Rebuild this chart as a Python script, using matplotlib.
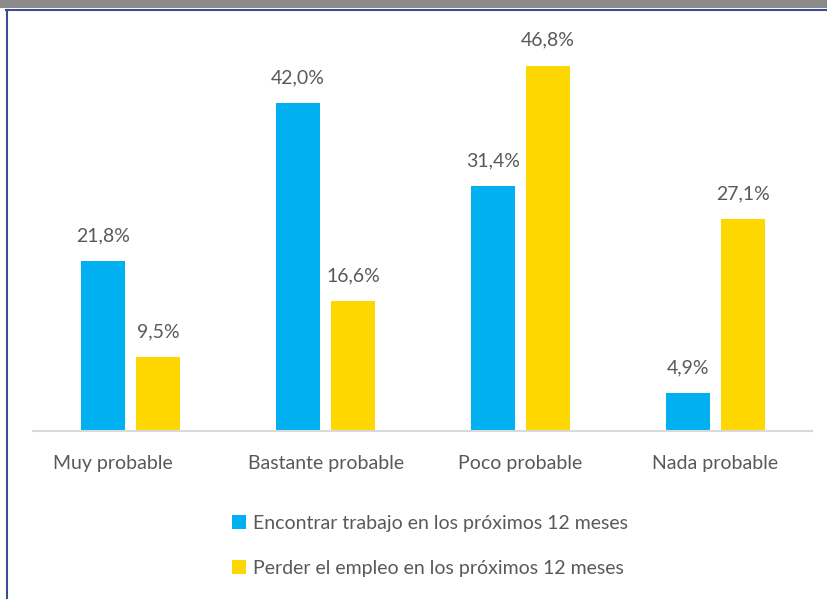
import matplotlib
matplotlib.use("Agg")
import matplotlib.pyplot as plt
from matplotlib.patches import Rectangle
from matplotlib.lines import Line2D
from matplotlib.transforms import ScaledTranslation

categories = ["Muy probable", "Bastante probable", "Poco probable", "Nada probable"]
encontrar = [21.8, 42.0, 31.4, 4.9]
perder = [9.5, 16.6, 46.8, 27.1]
series_names = ["Encontrar trabajo en los próximos 12 meses",
                "Perder el empleo en los próximos 12 meses"]

BLUE = "#00B0F0"
YELLOW = "#FFD700"
TXT = "#595959"
FONT = ["Lato", "DejaVu Sans"]
FS = 14

W, H = 828, 599
fig = plt.figure(figsize=(W / 100, H / 100), dpi=100)
fig.patch.set_facecolor("white")

# frame decoration
fig.add_artist(Rectangle((0, 1 - 8 / H), 1, 8 / H, transform=fig.transFigure,
                         facecolor="#8a8a8a", edgecolor="none"))
fig.add_artist(Line2D([6 / W, 1], [1 - 9.5 / H, 1 - 9.5 / H], transform=fig.transFigure,
                      color="#3c4a9a", lw=1.5))
fig.add_artist(Line2D([7.5 / W, 7.5 / W], [0, 1 - 9.5 / H], transform=fig.transFigure,
                      color="#3c4a9a", lw=1.5))

ax_left, ax_right = 33.5 / W, 812.5 / W
base_y = 431
ymax = 50
ppu = 328 / 42.0
top_y = base_y - ymax * ppu
ax = fig.add_axes([ax_left, 1 - base_y / H, ax_right - ax_left, (base_y - top_y) / H])
ax.set_xlim(-0.5, 3.5)
ax.set_ylim(0, ymax)

x = list(range(len(categories)))
bw = 0.226
off = 0.141
b1 = ax.bar([i - off for i in x], encontrar, width=bw, color=BLUE, zorder=2)
b2 = ax.bar([i + off for i in x], perder, width=bw, color=YELLOW, zorder=2)

for bars, vals in ((b1, encontrar), (b2, perder)):
    for r, v in zip(bars, vals):
        ax.annotate(f"{v:.1f}".replace(".", ",") + "%", (r.get_x() + r.get_width() / 2, v),
                    xytext=(0, 12), textcoords="offset points", ha="center", va="bottom",
                    fontsize=FS, color=TXT, family=FONT)

for s in ["top", "right", "left"]:
    ax.spines[s].set_visible(False)
ax.spines["bottom"].set_color("#D9D9D9")
ax.spines["bottom"].set_linewidth(1.5)
ax.set_yticks([])
ax.set_xticks(x)
ax.set_xticklabels(categories, fontsize=FS, color=TXT, family=FONT)
ax.tick_params(axis="x", length=0, pad=17)
ax.set_facecolor("none")
first = ax.get_xticklabels()[0]
first.set_transform(first.get_transform() + ScaledTranslation(-18 / 100, 0, fig.dpi_scale_trans))

# legend
h1 = Rectangle((0, 0), 1, 1, facecolor=BLUE)
h2 = Rectangle((0, 0), 1, 1, facecolor=YELLOW)
leg = fig.legend([h1, h2], series_names, loc="upper left",
                 bbox_to_anchor=(215 / W, 1 - 497 / H), frameon=False,
                 prop={"family": FONT, "size": FS}, labelcolor=TXT,
                 handlelength=0.7, handleheight=0.7, handletextpad=0.35,
                 labelspacing=1.45)

fig.savefig("out.png", dpi=100)
